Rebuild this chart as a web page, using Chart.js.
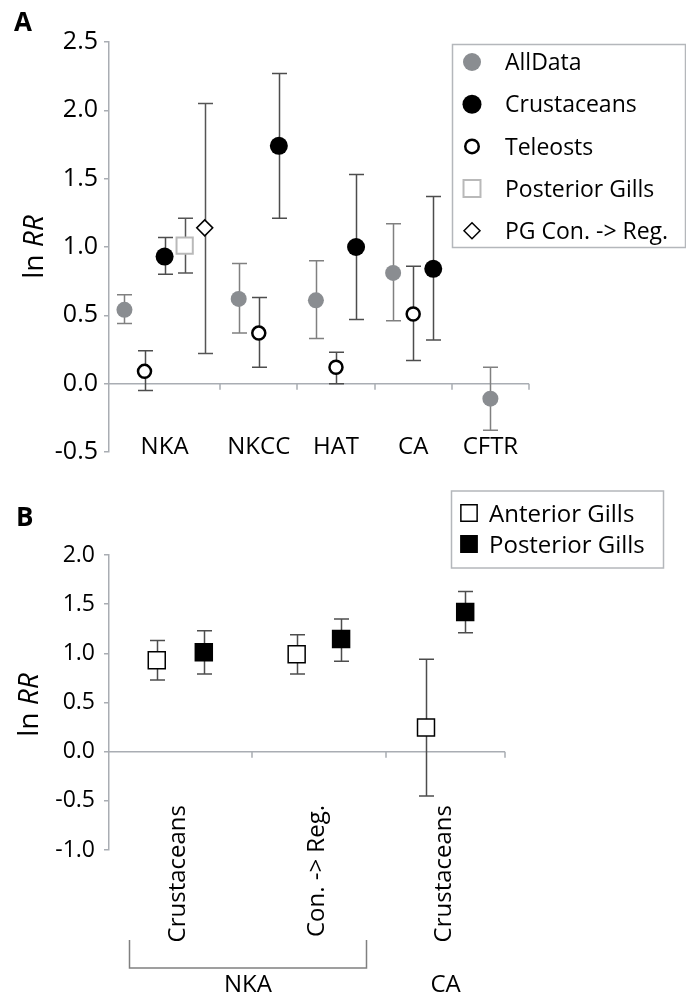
<!DOCTYPE html>
<html>
<head>
<meta charset="utf-8">
<script src="https://cdn.jsdelivr.net/npm/chart.js@4.4.0/dist/chart.umd.min.js"></script>
<style>
  body { margin: 0; background: #fff; overflow: hidden; }
  #wrapA { position: absolute; left: 0; top: 0; width: 686px; height: 490px; }
  #wrapB { position: absolute; left: 0; top: 490px; width: 686px; height: 508px; }
</style>
</head>
<body>
<div id="wrapA"><canvas id="chartA" width="686" height="490"></canvas></div>
<div id="wrapB"><canvas id="chartB" width="686" height="508"></canvas></div>
<script>
// ---- panel A data (ln RR, mean and 95% CI) ----
const categoriesA = ['NKA', 'NKCC', 'HAT', 'CA', 'CFTR'];
const allData     = [0.54, 0.62, 0.61, 0.81, -0.11];
const allDataLo   = [0.44, 0.37, 0.33, 0.46, -0.34];
const allDataHi   = [0.65, 0.88, 0.90, 1.17, 0.12];
const crust       = [0.93, 1.74, 1.00, 0.84, null];
const crustLo     = [0.80, 1.21, 0.47, 0.32, null];
const crustHi     = [1.07, 2.27, 1.53, 1.37, null];
const teleosts    = [0.09, 0.37, 0.12, 0.51, null];
const teleostsLo  = [-0.05, 0.12, 0.00, 0.17, null];
const teleostsHi  = [0.24, 0.63, 0.23, 0.86, null];
const postGills   = [1.01, null, null, null, null];
const postGillsLo = [0.81, null, null, null, null];
const postGillsHi = [1.21, null, null, null, null];
const pgConReg    = [1.14, null, null, null, null];
const pgConRegLo  = [0.22, null, null, null, null];
const pgConRegHi  = [2.05, null, null, null, null];
const yTicksA     = [-0.5, 0, 0.5, 1, 1.5, 2, 2.5];

// ---- panel B data ----
const categoriesB = ['Crustaceans', 'Con. -> Reg.', 'Crustaceans'];
const groupsB     = ['NKA', 'NKA', 'CA'];
const anterior    = [0.93, 0.99, 0.245];
const anteriorLo  = [0.73, 0.79, -0.45];
const anteriorHi  = [1.13, 1.19, 0.94];
const posterior   = [1.01, 1.145, 1.42];
const posteriorLo = [0.79, 0.92, 1.21];
const posteriorHi = [1.23, 1.35, 1.63];
const yTicksB     = [-1, -0.5, 0, 0.5, 1, 1.5, 2];

// ---- layout / style ----
const FONT = '"Open Sans", "DejaVu Sans", sans-serif';
const AXIS = '#a9adb3';
const catWidthA = [1.44, 1, 1, 1, 1];
const catWidthB = [1.08, 1.02, 0.90];
const SLOT_A = 0.26;
const CAP = 7.5;

function edgesOf(widths) {
  const e = [0];
  widths.forEach(w => e.push(e[e.length - 1] + w));
  return e;
}
const edgesA = edgesOf(catWidthA);
const edgesB = edgesOf(catWidthB);
const centerA = catWidthA.map((w, i) => edgesA[i] + w / 2);
const centerB = catWidthB.map((w, i) => edgesB[i] + w / 2);

const seriesA = [
  {label: 'AllData', y: allData, lo: allDataLo, hi: allDataHi, slot: 0,
   style: 'circle', r: 8, fill: '#8a8d91', stroke: '#8a8d91', bw: 0, err: '#808080', legR: 9},
  {label: 'Crustaceans', y: crust, lo: crustLo, hi: crustHi, slot: 2,
   style: 'circle', r: 9, fill: '#000', stroke: '#000', bw: 0, err: '#4d4d4d', legR: 9.5},
  {label: 'Teleosts', y: teleosts, lo: teleostsLo, hi: teleostsHi, slot: 1,
   style: 'circle', r: 6.5, fill: '#fff', stroke: '#000', bw: 2.5, err: '#4d4d4d', legR: 6.75},
  {label: 'Posterior Gills', y: postGills, lo: postGillsLo, hi: postGillsHi, slot: 3,
   style: 'rect', r: 11.5, fill: '#fff', stroke: '#b9b9b9', bw: 2, err: '#555', legR: 12},
  {label: 'PG Con. -> Reg.', y: pgConReg, lo: pgConRegLo, hi: pgConRegHi, slot: 4,
   style: 'rectRot', r: 8, fill: '#fff', stroke: '#000', bw: 1.5, err: '#555', legR: 8}
];

function slotX(i, s) {
  const present = seriesA.filter(t => t.y[i] != null).sort((a, b) => a.slot - b.slot);
  const k = present.indexOf(s);
  return centerA[i] + (k - (present.length - 1) / 2) * SLOT_A;
}

const datasetsA = seriesA.map(s => ({
  label: s.label,
  data: categoriesA.map((c, i) => s.y[i] == null ? null :
    {x: slotX(i, s), y: s.y[i], lo: s.lo[i], hi: s.hi[i]}).filter(Boolean),
  pointStyle: s.style, pointRadius: s.r, pointHoverRadius: s.r,
  backgroundColor: s.fill, borderColor: s.stroke, borderWidth: s.bw,
  errColor: s.err
}));

const seriesB = [
  {label: 'Anterior Gills', y: anterior, lo: anteriorLo, hi: anteriorHi, side: -1, fill: '#fff'},
  {label: 'Posterior Gills', y: posterior, lo: posteriorLo, hi: posteriorHi, side: 1, fill: '#000'}
];
const datasetsB = seriesB.map(s => ({
  label: s.label,
  data: categoriesB.map((c, i) => ({x: centerB[i] + s.side * 0.165 * catWidthB[i], y: s.y[i], lo: s.lo[i], hi: s.hi[i]})),
  pointStyle: 'rect', pointRadius: 12, pointHoverRadius: 12,
  backgroundColor: s.fill, borderColor: '#000', borderWidth: 1.5,
  errColor: '#4d4d4d'
}));

// ---- helpers ----
function marker(ctx, style, x, y, r, fill, stroke, bw) {
  ctx.beginPath();
  if (style === 'circle') ctx.arc(x, y, r, 0, Math.PI * 2);
  else if (style === 'rect') { const h = r * Math.SQRT1_2; ctx.rect(x - h, y - h, 2 * h, 2 * h); }
  else { ctx.moveTo(x - r, y); ctx.lineTo(x, y - r); ctx.lineTo(x + r, y); ctx.lineTo(x, y + r); ctx.closePath(); }
  ctx.fillStyle = fill; ctx.fill();
  if (bw > 0) { ctx.lineWidth = bw; ctx.strokeStyle = stroke; ctx.stroke(); }
}

function yTitle(ctx, x, yc) {
  ctx.save();
  ctx.translate(x, yc);
  ctx.rotate(-Math.PI / 2);
  ctx.fillStyle = '#000';
  ctx.textBaseline = 'alphabetic';
  ctx.textAlign = 'left';
  const f1 = '28px ' + FONT, f2 = 'italic 28px ' + FONT;
  ctx.font = f1; const w1 = ctx.measureText('ln ').width;
  ctx.font = f2; const w2 = ctx.measureText('RR').width;
  const sx = -(w1 + w2) / 2;
  ctx.font = f1; ctx.fillText('ln ', sx, 0);
  ctx.font = f2; ctx.fillText('RR', sx + w1, 0);
  ctx.restore();
}

function baseline(chart, edges) {
  const {ctx, scales: {x, y}} = chart;
  const y0 = y.getPixelForValue(0);
  ctx.save();
  ctx.strokeStyle = AXIS; ctx.lineWidth = 1.5;
  ctx.beginPath();
  ctx.moveTo(x.getPixelForValue(edges[0]), y0);
  ctx.lineTo(x.getPixelForValue(edges[edges.length - 1]), y0);
  edges.slice(1).forEach(e => {
    const px = Math.round(x.getPixelForValue(e));
    ctx.moveTo(px, y0); ctx.lineTo(px, y0 + 6);
  });
  ctx.stroke();
  ctx.restore();
}

const errorBars = {
  id: 'errorBars',
  beforeDatasetsDraw(chart) {
    const {ctx, scales: {x, y}} = chart;
    baseline(chart, chart.options.catEdges);
    ctx.save();
    ctx.lineWidth = 1.5;
    chart.data.datasets.forEach(ds => {
      ctx.strokeStyle = ds.errColor;
      ds.data.forEach(p => {
        const px = Math.round(x.getPixelForValue(p.x)) + 0.5;
        const top = y.getPixelForValue(p.hi), bot = y.getPixelForValue(p.lo);
        ctx.beginPath();
        ctx.moveTo(px, top); ctx.lineTo(px, bot);
        ctx.moveTo(px - CAP, top); ctx.lineTo(px + CAP, top);
        ctx.moveTo(px - CAP, bot); ctx.lineTo(px + CAP, bot);
        ctx.stroke();
      });
    });
    ctx.restore();
  }
};

const decorA = {
  id: 'decorA',
  afterDraw(chart) {
    const {ctx, scales: {x}} = chart;
    ctx.save();
    ctx.fillStyle = '#000';
    ctx.font = 'bold 26px ' + FONT;
    ctx.textAlign = 'left'; ctx.textBaseline = 'alphabetic';
    ctx.fillText('A', 14, 31);
    // category labels
    ctx.font = '24px ' + FONT;
    ctx.textAlign = 'center';
    categoriesA.forEach((c, i) => ctx.fillText(c, x.getPixelForValue(centerA[i]), 454));
    ctx.restore();
    yTitle(ctx, 43, 247);
    // legend
    ctx.save();
    ctx.strokeStyle = '#b4b7bb'; ctx.lineWidth = 1.5;
    ctx.strokeRect(452.5, 44.5, 233, 203);
    const order = ['AllData', 'Crustaceans', 'Teleosts', 'Posterior Gills', 'PG Con. -> Reg.'];
    order.forEach((lab, k) => {
      const s = seriesA.find(t => t.label === lab);
      const cy = 62 + k * 42.2;
      marker(ctx, s.style, 472, cy, s.legR, s.fill, s.stroke, s.bw);
      ctx.fillStyle = '#000';
      ctx.font = '23px ' + FONT;
      ctx.textAlign = 'left'; ctx.textBaseline = 'alphabetic';
      ctx.fillText(lab, 505, cy + 8.2);
    });
    ctx.restore();
  }
};

const decorB = {
  id: 'decorB',
  afterDraw(chart) {
    const {ctx, scales: {x}} = chart;
    ctx.save();
    ctx.fillStyle = '#000';
    ctx.font = 'bold 26px ' + FONT;
    ctx.textAlign = 'left'; ctx.textBaseline = 'alphabetic';
    ctx.fillText('B', 16, 36);
    // rotated category labels
    ctx.font = '24px ' + FONT;
    categoriesB.forEach((c, i) => {
      ctx.save();
      ctx.translate(x.getPixelForValue(centerB[i]) + 5, 315);
      ctx.rotate(-Math.PI / 2);
      ctx.textAlign = 'right';
      ctx.fillText(c, 0, 0);
      ctx.restore();
    });
    // group brackets and names
    const groups = [...new Set(groupsB)];
    groups.forEach(g => {
      const idx = groupsB.map((v, i) => v === g ? i : -1).filter(i => i >= 0);
      const first = idx[0], last = idx[idx.length - 1];
      let cx;
      if (idx.length > 1) {
        const x1 = Math.round(x.getPixelForValue(edgesB[first] + 0.15)) + 0.5;
        const x2 = Math.round(x.getPixelForValue(edgesB[last + 1] - 0.15)) + 0.5;
        ctx.strokeStyle = '#808080'; ctx.lineWidth = 1.5;
        ctx.beginPath();
        ctx.moveTo(x1, 450); ctx.lineTo(x1, 478); ctx.lineTo(x2, 478); ctx.lineTo(x2, 450);
        ctx.stroke();
        cx = (x1 + x2) / 2;
      } else {
        cx = x.getPixelForValue(centerB[first]);
      }
      ctx.textAlign = 'center';
      ctx.fillText(g, cx, 502);
    });
    ctx.restore();
    yTitle(ctx, 38, 215);
    // legend
    ctx.save();
    ctx.strokeStyle = '#b4b7bb'; ctx.lineWidth = 1.5;
    ctx.strokeRect(451.5, 1, 212, 77);
    seriesB.forEach((s, k) => {
      const cy = 23 + k * 31;
      marker(ctx, 'rect', 469, cy, 11.5, s.fill, '#000', 1.5);
      ctx.fillStyle = '#000';
      ctx.font = '24px ' + FONT;
      ctx.textAlign = 'left'; ctx.textBaseline = 'alphabetic';
      ctx.fillText(s.label, 489, cy + 9);
    });
    ctx.restore();
  }
};

function yScale(ticks, width, fontSize, pad) {
  return {
    type: 'linear',
    min: ticks[0], max: ticks[ticks.length - 1],
    afterBuildTicks: s => { s.ticks = ticks.map(v => ({value: v})); },
    afterFit: s => { s.width = width; },
    ticks: {callback: v => Number(v).toFixed(1), font: {family: FONT, size: fontSize}, color: '#000', padding: pad},
    grid: {drawOnChartArea: false, tickLength: 5, color: AXIS, lineWidth: 1.5},
    border: {color: AXIS, width: 1.5}
  };
}

new Chart(document.getElementById('chartA'), {
  type: 'scatter',
  data: {datasets: datasetsA},
  options: {
    responsive: false,
    animation: false,
    catEdges: edgesA,
    layout: {padding: {left: 0, top: 42, right: 157, bottom: 38}},
    plugins: {legend: {display: false}, tooltip: {enabled: false}},
    scales: {
      x: {type: 'linear', min: 0, max: edgesA[edgesA.length - 1], display: false},
      y: yScale(yTicksA, 109, 25, 6)
    }
  },
  plugins: [errorBars, decorA]
});

new Chart(document.getElementById('chartB'), {
  type: 'scatter',
  data: {datasets: datasetsB},
  options: {
    responsive: false,
    animation: false,
    catEdges: edgesB,
    layout: {padding: {left: 0, top: 65, right: 181, bottom: 148}},
    plugins: {legend: {display: false}, tooltip: {enabled: false}},
    scales: {
      x: {type: 'linear', min: 0, max: edgesB[edgesB.length - 1], display: false},
      y: yScale(yTicksB, 109, 23, 9)
    }
  },
  plugins: [errorBars, decorB]
});
</script>
</body>
</html>
